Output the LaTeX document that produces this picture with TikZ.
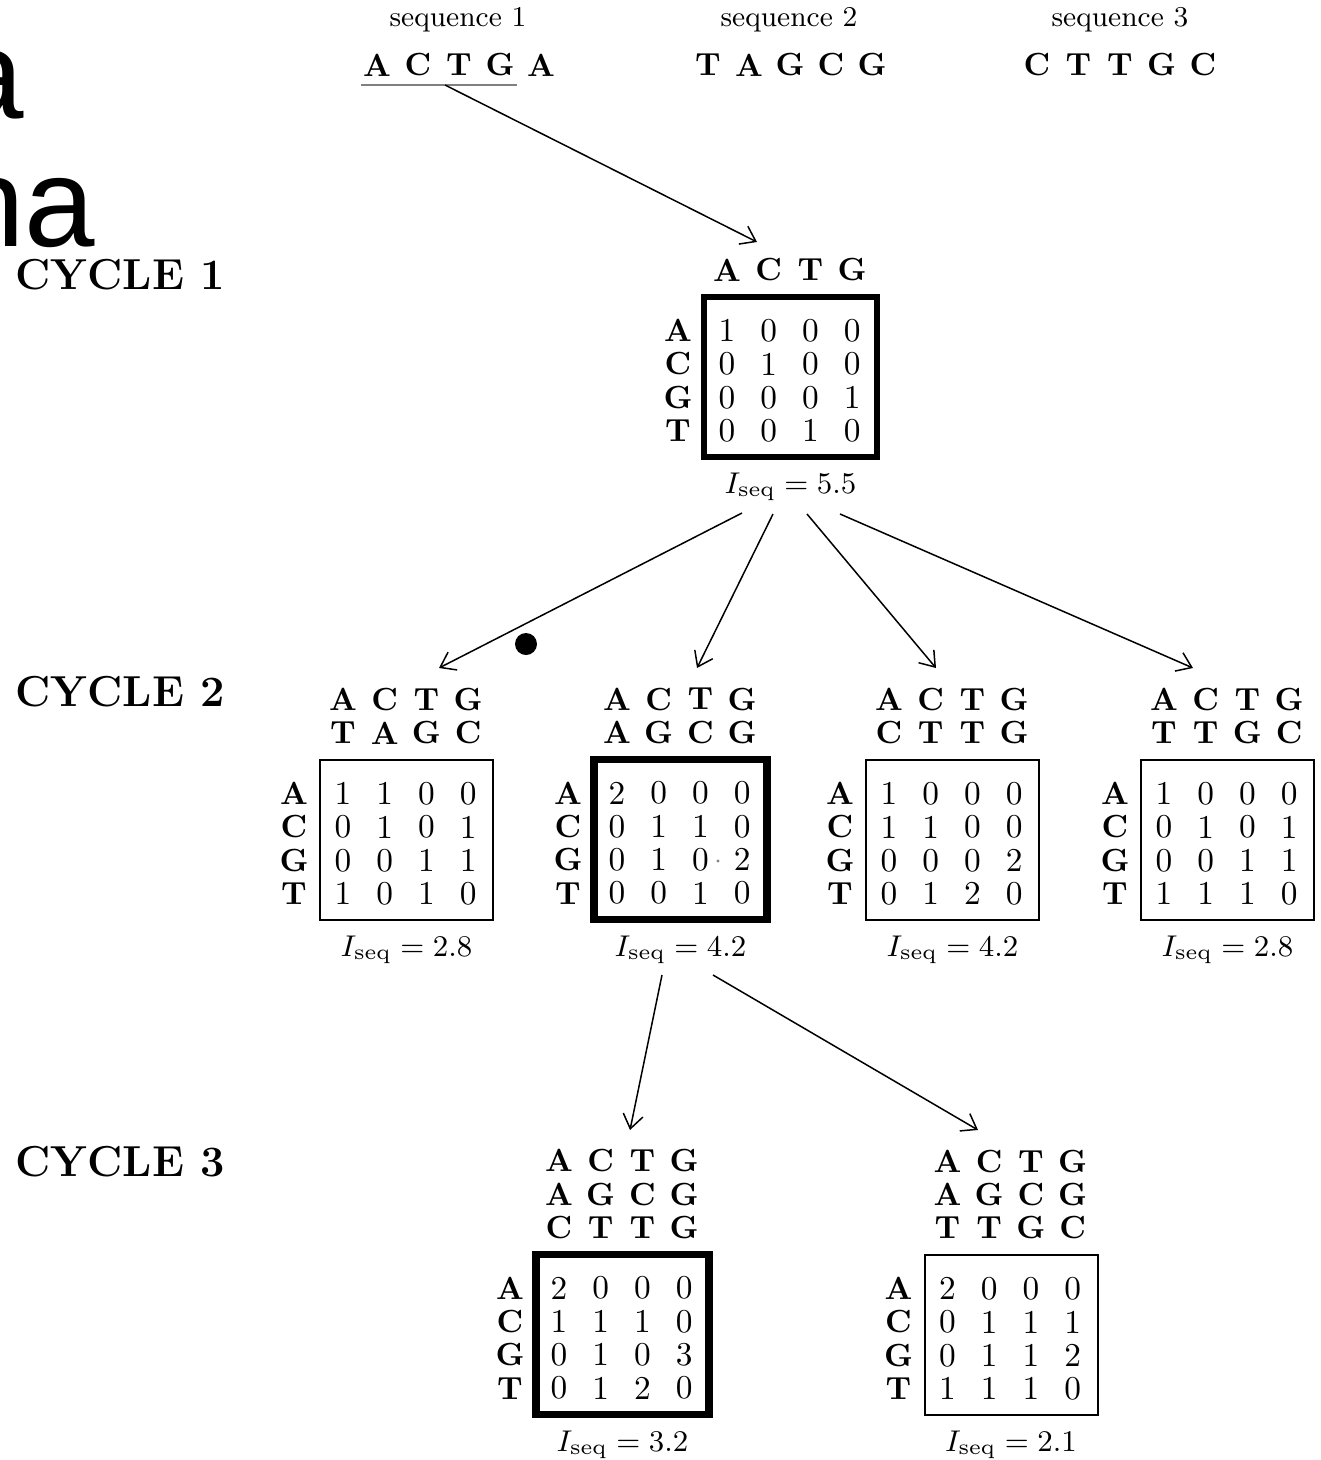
\documentclass[tikz,border=0pt]{standalone}
\usepackage{fontspec}
\usetikzlibrary{arrows.meta}
\newfontfamily\strayfont{Liberation Sans}

% One count matrix: #1 name, #2 left, #3 top (of the box outline),
% #4 box style, #5 number of aligned rows, #6 aligned rows,
% #7 count rows, #8 information value
\newcommand{\countmat}[8]{%
  \node[#4] (#1) at ({#2+86.5}, {#3+80}) {};
  \foreach \hr [count=\k] in {#6} {
    \foreach \ch [count=\c] in \hr
      \node[base] (#1-h\k-\c) at ({#2+23+41.7*(\c-1)}, {#3-27-33.4*(#5-\k)}) {\ch};
  }
  \foreach \rl [count=\r] in {A,C,G,T}
    \node[base] (#1-r\r) at ({#2-26}, {#3+33.5+33.4*(\r-1)}) {\rl};
  \foreach \er [count=\r] in {#7} {
    \foreach \v [count=\c] in \er
      \node[entry] (#1-\r-\c) at ({#2+23+41.7*(\c-1)}, {#3+33.5+33.4*(\r-1)}) {\v};
  }
  \node[info] (#1-val) at ({#2+86.5}, {#3+160+30}) {$I_{\mathrm{seq}} = #8$};
}

\begin{document}
\begin{tikzpicture}[x=0.3pt, y=-0.3pt,
  entry/.style={inner sep=0pt, font=\fontsize{10}{12}\selectfont},
  info/.style={inner sep=0pt, font=\fontsize{9.2}{11}\selectfont},
  base/.style={inner sep=0pt, font=\fontsize{9.6}{12}\selectfont\bfseries},
  seqlabel/.style={inner sep=0pt, font=\fontsize{8.6}{10}\selectfont},
  cyc/.style={anchor=west, inner sep=0pt, font=\fontsize{13}{15}\selectfont\bfseries},
  thinbox/.style={draw, line width=0.6pt, minimum width=51.9pt, minimum height=48pt, inner sep=0pt, outer sep=0pt},
  thickbox/.style={draw, line width=2.3pt, minimum width=51.9pt, minimum height=48pt, inner sep=0pt, outer sep=0pt},
  firstbox/.style={thickbox, line width=1.6pt},
  arr/.style={-{Straight Barb[length=4.2pt, width=6pt]}, line width=0.45pt},
  stray/.style={inner sep=0pt, anchor=base east, font=\strayfont\fontsize{38}{40}\selectfont}]
\useasboundingbox (0,0) rectangle (1321,1460);

% stray glyphs at the left edge
\node[stray] (strayA) at (25,118) {a};
\node[stray] (strayB) at (96,246) {na};
\fill (526,644) circle[radius=11];

% the three input sequences
\node[seqlabel] (lab1) at (458,20) {sequence 1};
\node[seqlabel] (lab2) at (789,20) {sequence 2};
\node[seqlabel] (lab3) at (1120,20) {sequence 3};
\foreach \ch [count=\i] in {A,C,T,G,A}
  \node[base] (s1-\i) at ({377+41*(\i-1)}, 65) {\ch};
\foreach \ch [count=\i] in {T,A,G,C,G}
  \node[base] (s2-\i) at ({708+41*(\i-1)}, 65) {\ch};
\foreach \ch [count=\i] in {C,T,T,G,C}
  \node[base] (s3-\i) at ({1037+41.5*(\i-1)}, 65) {\ch};
\coordinate (ulw) at (361,85);
\coordinate (ule) at (517,85);
\coordinate (ulm) at (445,85);
\draw[gray, line width=0.6pt] (ulw) -- (ule);

% cycle labels
\node[cyc] (cy1) at (15,275) {CYCLE 1};
\node[cyc] (cy2) at (15,692) {CYCLE 2};
\node[cyc] (cy3) at (15,1162) {CYCLE 3};

% cycle 1
\countmat{m1}{704}{297}{firstbox}{1}{{A,C,T,G}}
  {{1,0,0,0},{0,1,0,0},{0,0,0,1},{0,0,1,0}}{5.5}

% cycle 2
\countmat{m2a}{320}{760}{thinbox}{2}{{A,C,T,G},{T,A,G,C}}
  {{1,1,0,0},{0,1,0,1},{0,0,1,1},{1,0,1,0}}{2.8}
\countmat{m2b}{594}{759.5}{thickbox}{2}{{A,C,T,G},{A,G,C,G}}
  {{2,0,0,0},{0,1,1,0},{0,1,0,2},{0,0,1,0}}{4.2}
\countmat{m2c}{866}{760}{thinbox}{2}{{A,C,T,G},{C,T,T,G}}
  {{1,0,0,0},{1,1,0,0},{0,0,0,2},{0,1,2,0}}{4.2}
\countmat{m2d}{1141}{760}{thinbox}{2}{{A,C,T,G},{T,T,G,C}}
  {{1,0,0,0},{0,1,0,1},{0,0,1,1},{1,1,1,0}}{2.8}
\fill[gray] (718,861) circle[radius=1.6];

% cycle 3
\countmat{m3a}{536}{1254.5}{thickbox}{3}{{A,C,T,G},{A,G,C,G},{C,T,T,G}}
  {{2,0,0,0},{1,1,1,0},{0,1,0,3},{0,1,2,0}}{3.2}
\countmat{m3b}{924.5}{1255}{thinbox}{3}{{A,C,T,G},{A,G,C,G},{T,T,G,C}}
  {{2,0,0,0},{0,1,1,1},{0,1,1,2},{1,1,1,0}}{2.1}

% connectors
\draw[arr] (ulm) -- ([shift={(-33.5,-55)}]m1.north);
\draw[arr] ([shift={(-48.5,26)}]m1-val.center) -- ([shift={(32.5,-92)}]m2a.north);
\draw[arr] ([shift={(-17.5,27)}]m1-val.center) -- ([shift={(16.5,-91.5)}]m2b.north);
\draw[arr] ([shift={(16.5,27)}]m1-val.center) -- ([shift={(-16.5,-92)}]m2c.north);
\draw[arr] ([shift={(49.5,27)}]m1-val.center) -- ([shift={(-34.5,-92)}]m2d.north);
\draw[arr] ([shift={(-18.5,25.5)}]m2b-val.center) -- ([shift={(7.5,-124.5)}]m3a.north);
\draw[arr] ([shift={(32.5,25.5)}]m2b-val.center) -- ([shift={(-33,-125)}]m3b.north);
\end{tikzpicture}
\end{document}
